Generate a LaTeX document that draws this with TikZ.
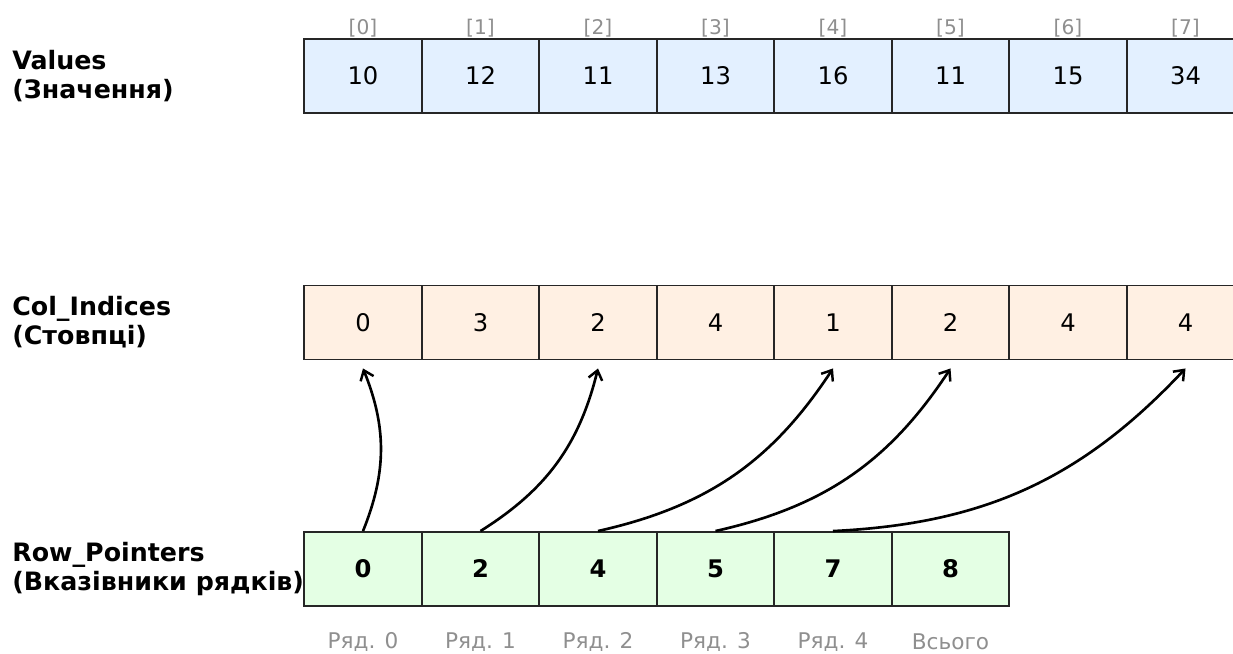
\documentclass[tikz,border=0pt]{standalone}
\usepackage{fontspec}
\setmainfont{DejaVu Sans}
\usetikzlibrary{arrows.meta,calc}
\definecolor{valfill}{HTML}{E3F0FF}
\definecolor{colfill}{HTML}{FFF0E3}
\definecolor{rowfill}{HTML}{E4FFE4}
\definecolor{idxgray}{HTML}{8F8F8F}
\definecolor{edgegray}{HTML}{262626}

\begin{document}
\begin{tikzpicture}[x=0.02cm,y=-0.02cm,
  cell/.style={draw=edgegray,line width=1.1pt,minimum width=2.35cm,minimum height=1.48cm,
    inner sep=0pt,text height=10pt,text depth=0pt,font=\fontsize{13.8}{16}\selectfont},
  rowlabel/.style={anchor=west,align=left,inner sep=0pt,font=\fontsize{14.4}{16.5}\selectfont\bfseries},
  idx/.style={text=idxgray,inner sep=0pt,font=\fontsize{11.5}{13}\selectfont},
  ptr/.style={-{Straight Barb[length=1.8mm,width=2.8mm,line width=1.4pt]},line width=1.5pt,bend right=22}]
  \useasboundingbox (0,0) rectangle (1233,653);
  \clip (0,0) rectangle (1233,653);

  \node[rowlabel] (lval) at (12,76) {Values\\(Значення)};
  \node[rowlabel] (lcol) at (12,322) {Col\_Indices\\(Стовпці)};
  \node[rowlabel] (lrow) at (12,569) {Row\_Pointers\\(Вказівники рядків)};

  \foreach \v [count=\i from 0] in {10,12,11,13,16,11,15,34} {
    \node[cell,fill=valfill] (v\i) at (363+117.5*\i,76) {\v};
    \node[idx] (vi\i) at (363+117.5*\i,28) {[\i]};
  }
  \foreach \c [count=\i from 0] in {0,3,2,4,1,2,4,4}
    \node[cell,fill=colfill] (c\i) at (363+117.5*\i,322.5) {\c};
  \foreach \r [count=\i from 0] in {0,2,4,5,7,8}
    \node[cell,fill=rowfill,font=\fontsize{13.8}{16}\selectfont\bfseries] (r\i) at (363+117.5*\i,569) {\r};
  \foreach \t [count=\i from 0] in {Ряд. 0,Ряд. 1,Ряд. 2,Ряд. 3,Ряд. 4,Всього}
    \node[idx,font=\fontsize{12.3}{14}\selectfont] (ri\i) at (363+117.5*\i,642) {\t};

  \foreach \i/\j in {0/0,1/2,2/4,3/5,4/7}
    \draw[ptr] (r\i.north) to ($(c\j.south)+(0,8)$);
\end{tikzpicture}
\end{document}
